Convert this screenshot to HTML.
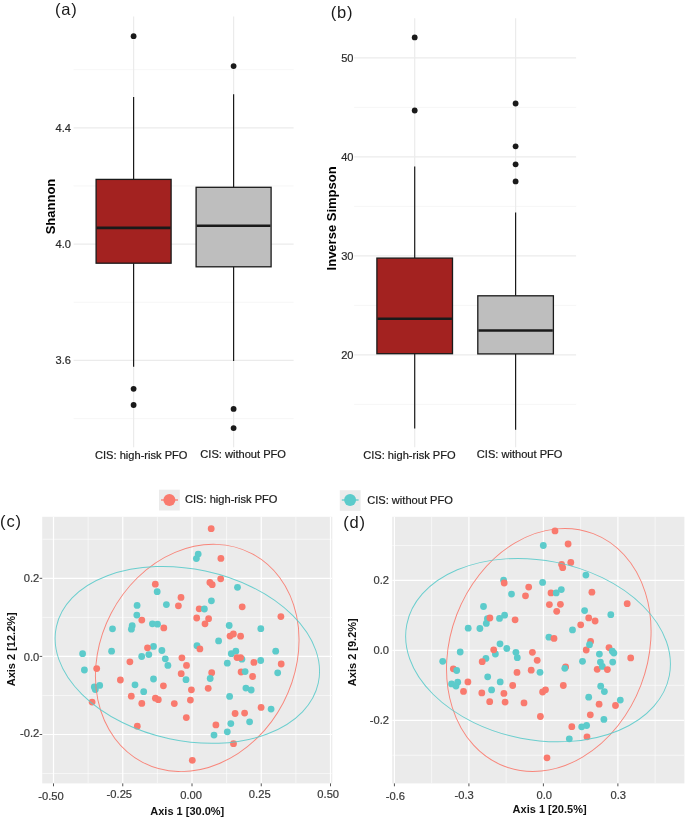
<!DOCTYPE html>
<html><head><meta charset="utf-8"><title>Figure</title>
<style>
html,body{margin:0;padding:0;background:#fff;width:685px;height:827px;overflow:hidden;}
svg{display:block;will-change:transform;}
text{font-family:"Liberation Sans", sans-serif;}
text.t{stroke:currentColor;stroke-width:0.2px;}
</style></head><body>
<svg width="685" height="827" viewBox="0 0 685 827">
<rect width="685" height="827" fill="#fff"/>
<line x1="73.6" y1="69.65" x2="293.6" y2="69.65" stroke="#F2F2F2" stroke-width="0.7" />
<line x1="73.6" y1="185.95" x2="293.6" y2="185.95" stroke="#F2F2F2" stroke-width="0.7" />
<line x1="73.6" y1="302.25" x2="293.6" y2="302.25" stroke="#F2F2F2" stroke-width="0.7" />
<line x1="73.6" y1="418.55" x2="293.6" y2="418.55" stroke="#F2F2F2" stroke-width="0.7" />
<line x1="73.6" y1="127.8" x2="293.6" y2="127.8" stroke="#EBEBEB" stroke-width="1.2" />
<line x1="73.6" y1="244.1" x2="293.6" y2="244.1" stroke="#EBEBEB" stroke-width="1.2" />
<line x1="73.6" y1="360.4" x2="293.6" y2="360.4" stroke="#EBEBEB" stroke-width="1.2" />
<line x1="133.6" y1="16.4" x2="133.6" y2="447.3" stroke="#EBEBEB" stroke-width="1.2" />
<line x1="233.6" y1="16.4" x2="233.6" y2="447.3" stroke="#EBEBEB" stroke-width="1.2" />
<line x1="133.6" y1="97" x2="133.6" y2="179.4" stroke="#1a1a1a" stroke-width="1.2" />
<line x1="133.6" y1="263.2" x2="133.6" y2="366.7" stroke="#1a1a1a" stroke-width="1.2" />
<rect x="96.1" y="179.4" width="75.0" height="83.8" fill="#A32220" stroke="#1a1a1a" stroke-width="1.3"/>
<line x1="96.7" y1="227.9" x2="170.5" y2="227.9" stroke="#1a1a1a" stroke-width="2.6" />
<circle cx="133.6" cy="36.2" r="2.9" fill="#1a1a1a" />
<circle cx="133.6" cy="388.8" r="2.9" fill="#1a1a1a" />
<circle cx="133.6" cy="405" r="2.9" fill="#1a1a1a" />
<line x1="233.6" y1="94.2" x2="233.6" y2="187.3" stroke="#1a1a1a" stroke-width="1.2" />
<line x1="233.6" y1="266.8" x2="233.6" y2="361" stroke="#1a1a1a" stroke-width="1.2" />
<rect x="196.1" y="187.3" width="75.0" height="79.5" fill="#BEBEBE" stroke="#1a1a1a" stroke-width="1.3"/>
<line x1="196.7" y1="225.8" x2="270.5" y2="225.8" stroke="#1a1a1a" stroke-width="2.6" />
<circle cx="233.6" cy="66.1" r="2.9" fill="#1a1a1a" />
<circle cx="233.6" cy="408.9" r="2.9" fill="#1a1a1a" />
<circle cx="233.6" cy="428.1" r="2.9" fill="#1a1a1a" />
<text x="55.0" y="15.1" font-size="16.5" fill="#1a1a1a" text-anchor="start" font-weight="normal" letter-spacing="0.8">(a)</text>
<text x="70.9" y="131.8" font-size="11.1" fill="#2a2a2a" text-anchor="end" font-weight="normal" class="t" style="color:#2a2a2a" >4.4</text>
<text x="70.9" y="248.1" font-size="11.1" fill="#2a2a2a" text-anchor="end" font-weight="normal" class="t" style="color:#2a2a2a" >4.0</text>
<text x="70.9" y="364.4" font-size="11.1" fill="#2a2a2a" text-anchor="end" font-weight="normal" class="t" style="color:#2a2a2a" >3.6</text>
<text x="0" y="0" font-size="13" font-weight="bold" fill="#000" text-anchor="middle" transform="translate(54.8,206.5) rotate(-90)">Shannon</text>
<text x="95" y="459.1" font-size="11.1" fill="#1a1a1a" text-anchor="start" font-weight="normal" class="t" style="color:#1a1a1a" >CIS: high-risk PFO</text>
<text x="200.3" y="458.2" font-size="11.1" fill="#1a1a1a" text-anchor="start" font-weight="normal" class="t" style="color:#1a1a1a" >CIS: without PFO</text>
<line x1="354.2" y1="107.4" x2="576.1" y2="107.4" stroke="#F2F2F2" stroke-width="0.7" />
<line x1="354.2" y1="206.4" x2="576.1" y2="206.4" stroke="#F2F2F2" stroke-width="0.7" />
<line x1="354.2" y1="305.4" x2="576.1" y2="305.4" stroke="#F2F2F2" stroke-width="0.7" />
<line x1="354.2" y1="404.4" x2="576.1" y2="404.4" stroke="#F2F2F2" stroke-width="0.7" />
<line x1="354.2" y1="57.9" x2="576.1" y2="57.9" stroke="#EBEBEB" stroke-width="1.2" />
<line x1="354.2" y1="156.9" x2="576.1" y2="156.9" stroke="#EBEBEB" stroke-width="1.2" />
<line x1="354.2" y1="255.9" x2="576.1" y2="255.9" stroke="#EBEBEB" stroke-width="1.2" />
<line x1="354.2" y1="354.9" x2="576.1" y2="354.9" stroke="#EBEBEB" stroke-width="1.2" />
<line x1="414.7" y1="18.2" x2="414.7" y2="447.2" stroke="#EBEBEB" stroke-width="1.2" />
<line x1="515.6" y1="18.2" x2="515.6" y2="447.2" stroke="#EBEBEB" stroke-width="1.2" />
<line x1="414.7" y1="166.5" x2="414.7" y2="258.1" stroke="#1a1a1a" stroke-width="1.2" />
<line x1="414.7" y1="353.7" x2="414.7" y2="428.5" stroke="#1a1a1a" stroke-width="1.2" />
<rect x="376.9" y="258.1" width="75.6" height="95.6" fill="#A32220" stroke="#1a1a1a" stroke-width="1.3"/>
<line x1="377.5" y1="318.8" x2="451.9" y2="318.8" stroke="#1a1a1a" stroke-width="2.6" />
<circle cx="414.7" cy="37.4" r="2.9" fill="#1a1a1a" />
<circle cx="414.7" cy="110.5" r="2.9" fill="#1a1a1a" />
<line x1="515.6" y1="212.4" x2="515.6" y2="295.8" stroke="#1a1a1a" stroke-width="1.2" />
<line x1="515.6" y1="353.9" x2="515.6" y2="429.7" stroke="#1a1a1a" stroke-width="1.2" />
<rect x="477.8" y="295.8" width="75.6" height="58.1" fill="#BEBEBE" stroke="#1a1a1a" stroke-width="1.3"/>
<line x1="478.4" y1="330.5" x2="552.8" y2="330.5" stroke="#1a1a1a" stroke-width="2.6" />
<circle cx="515.6" cy="103.5" r="2.9" fill="#1a1a1a" />
<circle cx="515.6" cy="146.3" r="2.9" fill="#1a1a1a" />
<circle cx="515.6" cy="164.3" r="2.9" fill="#1a1a1a" />
<circle cx="515.6" cy="181.4" r="2.9" fill="#1a1a1a" />
<text x="330.8" y="17.6" font-size="16.5" fill="#1a1a1a" text-anchor="start" font-weight="normal" letter-spacing="0.8">(b)</text>
<text x="353.5" y="61.9" font-size="11.1" fill="#2a2a2a" text-anchor="end" font-weight="normal" class="t" style="color:#2a2a2a" >50</text>
<text x="353.5" y="160.9" font-size="11.1" fill="#2a2a2a" text-anchor="end" font-weight="normal" class="t" style="color:#2a2a2a" >40</text>
<text x="353.5" y="259.9" font-size="11.1" fill="#2a2a2a" text-anchor="end" font-weight="normal" class="t" style="color:#2a2a2a" >30</text>
<text x="353.5" y="358.9" font-size="11.1" fill="#2a2a2a" text-anchor="end" font-weight="normal" class="t" style="color:#2a2a2a" >20</text>
<text x="0" y="0" font-size="13" font-weight="bold" fill="#000" text-anchor="middle" transform="translate(335.9,218.4) rotate(-90)">Inverse Simpson</text>
<text x="363.2" y="458.7" font-size="11.1" fill="#1a1a1a" text-anchor="start" font-weight="normal" class="t" style="color:#1a1a1a" >CIS: high-risk PFO</text>
<text x="476.8" y="458.4" font-size="11.1" fill="#1a1a1a" text-anchor="start" font-weight="normal" class="t" style="color:#1a1a1a" >CIS: without PFO</text>
<rect x="159.0" y="489.7" width="20.8" height="20.8" fill="#EBEBEB"/>
<line x1="161" y1="500" x2="178" y2="500" stroke="#F97A6E" stroke-width="1.3" />
<circle cx="169.4" cy="500.1" r="6" fill="#F97A6E" />
<text x="185.0" y="503" font-size="11.1" fill="#1a1a1a" text-anchor="start" font-weight="normal" class="t" style="color:#1a1a1a" >CIS: high-risk PFO</text>
<rect x="339.8" y="490.2" width="20.8" height="20.6" fill="#EBEBEB"/>
<line x1="341.8" y1="500" x2="358.6" y2="500" stroke="#5CCBCB" stroke-width="1.3" />
<circle cx="350.1" cy="500.1" r="6" fill="#5CCBCB" />
<text x="367.2" y="504" font-size="11.1" fill="#1a1a1a" text-anchor="start" font-weight="normal" class="t" style="color:#1a1a1a" >CIS: without PFO</text>
<clipPath id="cc"><rect x="42.2" y="516.8" width="290.1" height="266.6"/></clipPath>
<rect x="42.2" y="516.8" width="290.1" height="266.6" fill="#EBEBEB"/>
<g clip-path="url(#cc)">
<line x1="88.12" y1="516.8" x2="88.12" y2="783.4" stroke="#fff" stroke-width="0.6" />
<line x1="157.38" y1="516.8" x2="157.38" y2="783.4" stroke="#fff" stroke-width="0.6" />
<line x1="226.62" y1="516.8" x2="226.62" y2="783.4" stroke="#fff" stroke-width="0.6" />
<line x1="295.88" y1="516.8" x2="295.88" y2="783.4" stroke="#fff" stroke-width="0.6" />
<line x1="42.2" y1="539.25" x2="332.3" y2="539.25" stroke="#fff" stroke-width="0.6" />
<line x1="42.2" y1="617.35" x2="332.3" y2="617.35" stroke="#fff" stroke-width="0.6" />
<line x1="42.2" y1="695.45" x2="332.3" y2="695.45" stroke="#fff" stroke-width="0.6" />
<line x1="42.2" y1="773.55" x2="332.3" y2="773.55" stroke="#fff" stroke-width="0.6" />
<line x1="53.5" y1="516.8" x2="53.5" y2="783.4" stroke="#fff" stroke-width="1.2" />
<line x1="122.75" y1="516.8" x2="122.75" y2="783.4" stroke="#fff" stroke-width="1.2" />
<line x1="192.0" y1="516.8" x2="192.0" y2="783.4" stroke="#fff" stroke-width="1.2" />
<line x1="261.25" y1="516.8" x2="261.25" y2="783.4" stroke="#fff" stroke-width="1.2" />
<line x1="330.5" y1="516.8" x2="330.5" y2="783.4" stroke="#fff" stroke-width="1.2" />
<line x1="42.2" y1="578.3" x2="332.3" y2="578.3" stroke="#fff" stroke-width="1.2" />
<line x1="42.2" y1="656.4" x2="332.3" y2="656.4" stroke="#fff" stroke-width="1.2" />
<line x1="42.2" y1="734.5" x2="332.3" y2="734.5" stroke="#fff" stroke-width="1.2" />
<circle cx="211.2" cy="528.7" r="3.4" fill="#F97A6E" />
<circle cx="220.9" cy="558.4" r="3.4" fill="#F97A6E" />
<circle cx="220.7" cy="578.8" r="3.4" fill="#F97A6E" />
<circle cx="209.9" cy="582.4" r="3.4" fill="#F97A6E" />
<circle cx="212.2" cy="584.7" r="3.4" fill="#F97A6E" />
<circle cx="155.3" cy="584.2" r="3.4" fill="#F97A6E" />
<circle cx="181" cy="597.4" r="3.4" fill="#F97A6E" />
<circle cx="178.4" cy="605.8" r="3.4" fill="#F97A6E" />
<circle cx="199.2" cy="608.8" r="3.4" fill="#F97A6E" />
<circle cx="242.2" cy="606.8" r="3.4" fill="#F97A6E" />
<circle cx="280.9" cy="616.6" r="3.4" fill="#F97A6E" />
<circle cx="141.8" cy="620.1" r="3.4" fill="#F97A6E" />
<circle cx="196.7" cy="618" r="3.4" fill="#F97A6E" />
<circle cx="208.6" cy="618.7" r="3.4" fill="#F97A6E" />
<circle cx="205" cy="623.8" r="3.4" fill="#F97A6E" />
<circle cx="163.8" cy="627.9" r="3.4" fill="#F97A6E" />
<circle cx="230" cy="636.1" r="3.4" fill="#F97A6E" />
<circle cx="233.4" cy="634" r="3.4" fill="#F97A6E" />
<circle cx="240.6" cy="636.2" r="3.4" fill="#F97A6E" />
<circle cx="129.9" cy="661.8" r="3.4" fill="#F97A6E" />
<circle cx="96.7" cy="668.6" r="3.4" fill="#F97A6E" />
<circle cx="181.9" cy="657.8" r="3.4" fill="#F97A6E" />
<circle cx="186.5" cy="665.4" r="3.4" fill="#F97A6E" />
<circle cx="253.9" cy="662.4" r="3.4" fill="#F97A6E" />
<circle cx="281.2" cy="664" r="3.4" fill="#F97A6E" />
<circle cx="181.2" cy="673.7" r="3.4" fill="#F97A6E" />
<circle cx="211.7" cy="672.7" r="3.4" fill="#F97A6E" />
<circle cx="241.1" cy="672" r="3.4" fill="#F97A6E" />
<circle cx="252.6" cy="676.5" r="3.4" fill="#F97A6E" />
<circle cx="120.4" cy="680" r="3.4" fill="#F97A6E" />
<circle cx="163.4" cy="685.8" r="3.4" fill="#F97A6E" />
<circle cx="191.4" cy="689.8" r="3.4" fill="#F97A6E" />
<circle cx="208.2" cy="688.3" r="3.4" fill="#F97A6E" />
<circle cx="131.3" cy="696.2" r="3.4" fill="#F97A6E" />
<circle cx="155.4" cy="698.2" r="3.4" fill="#F97A6E" />
<circle cx="158.3" cy="699.7" r="3.4" fill="#F97A6E" />
<circle cx="190.4" cy="700.1" r="3.4" fill="#F97A6E" />
<circle cx="92.1" cy="702.1" r="3.4" fill="#F97A6E" />
<circle cx="141.8" cy="703.4" r="3.4" fill="#F97A6E" />
<circle cx="174.3" cy="703.6" r="3.4" fill="#F97A6E" />
<circle cx="261.1" cy="707.4" r="3.4" fill="#F97A6E" />
<circle cx="235.1" cy="713.5" r="3.4" fill="#F97A6E" />
<circle cx="244.6" cy="713.1" r="3.4" fill="#F97A6E" />
<circle cx="186.3" cy="717.6" r="3.4" fill="#F97A6E" />
<circle cx="215.9" cy="724.9" r="3.4" fill="#F97A6E" />
<circle cx="137.3" cy="726.2" r="3.4" fill="#F97A6E" />
<circle cx="233.5" cy="743.7" r="3.4" fill="#F97A6E" />
<circle cx="192.3" cy="760.3" r="3.4" fill="#F97A6E" />
<circle cx="198.2" cy="554.1" r="3.4" fill="#5CCBCB" />
<circle cx="196.4" cy="558.6" r="3.4" fill="#5CCBCB" />
<circle cx="157.2" cy="591.7" r="3.4" fill="#5CCBCB" />
<circle cx="237.5" cy="587.3" r="3.4" fill="#5CCBCB" />
<circle cx="211.4" cy="600.8" r="3.4" fill="#5CCBCB" />
<circle cx="137.1" cy="605.4" r="3.4" fill="#5CCBCB" />
<circle cx="166.4" cy="604.6" r="3.4" fill="#5CCBCB" />
<circle cx="204.4" cy="609" r="3.4" fill="#5CCBCB" />
<circle cx="136.8" cy="615.1" r="3.4" fill="#5CCBCB" />
<circle cx="152.4" cy="623.8" r="3.4" fill="#5CCBCB" />
<circle cx="157.5" cy="624.2" r="3.4" fill="#5CCBCB" />
<circle cx="132.2" cy="625.7" r="3.4" fill="#5CCBCB" />
<circle cx="131.4" cy="629.2" r="3.4" fill="#5CCBCB" />
<circle cx="112.5" cy="628.8" r="3.4" fill="#5CCBCB" />
<circle cx="229.2" cy="625.5" r="3.4" fill="#5CCBCB" />
<circle cx="260.8" cy="628.7" r="3.4" fill="#5CCBCB" />
<circle cx="218.6" cy="640.9" r="3.4" fill="#5CCBCB" />
<circle cx="153.5" cy="646.4" r="3.4" fill="#5CCBCB" />
<circle cx="161.9" cy="650.5" r="3.4" fill="#5CCBCB" />
<circle cx="148.8" cy="654.6" r="3.4" fill="#5CCBCB" />
<circle cx="141.7" cy="656.5" r="3.4" fill="#5CCBCB" />
<circle cx="111.6" cy="651.2" r="3.4" fill="#5CCBCB" />
<circle cx="82.6" cy="653.7" r="3.4" fill="#5CCBCB" />
<circle cx="197" cy="645.7" r="3.4" fill="#5CCBCB" />
<circle cx="231.3" cy="653.7" r="3.4" fill="#5CCBCB" />
<circle cx="235.8" cy="651.2" r="3.4" fill="#5CCBCB" />
<circle cx="275.7" cy="651.2" r="3.4" fill="#5CCBCB" />
<circle cx="165.3" cy="658.8" r="3.4" fill="#5CCBCB" />
<circle cx="167.9" cy="665.4" r="3.4" fill="#5CCBCB" />
<circle cx="227.3" cy="663.2" r="3.4" fill="#5CCBCB" />
<circle cx="260.7" cy="660.5" r="3.4" fill="#5CCBCB" />
<circle cx="241.9" cy="659.2" r="3.4" fill="#5CCBCB" />
<circle cx="84.4" cy="670" r="3.4" fill="#5CCBCB" />
<circle cx="186" cy="679.7" r="3.4" fill="#5CCBCB" />
<circle cx="210.2" cy="678.5" r="3.4" fill="#5CCBCB" />
<circle cx="153.5" cy="679" r="3.4" fill="#5CCBCB" />
<circle cx="245.1" cy="671.6" r="3.4" fill="#5CCBCB" />
<circle cx="277.7" cy="672.8" r="3.4" fill="#5CCBCB" />
<circle cx="135" cy="684.8" r="3.4" fill="#5CCBCB" />
<circle cx="99.7" cy="685.4" r="3.4" fill="#5CCBCB" />
<circle cx="94.3" cy="687" r="3.4" fill="#5CCBCB" />
<circle cx="95.3" cy="689.5" r="3.4" fill="#5CCBCB" />
<circle cx="143.7" cy="691.7" r="3.4" fill="#5CCBCB" />
<circle cx="229.6" cy="696.4" r="3.4" fill="#5CCBCB" />
<circle cx="245.9" cy="688.1" r="3.4" fill="#5CCBCB" />
<circle cx="251.2" cy="690" r="3.4" fill="#5CCBCB" />
<circle cx="271.1" cy="709.1" r="3.4" fill="#5CCBCB" />
<circle cx="249.6" cy="721.8" r="3.4" fill="#5CCBCB" />
<circle cx="230.8" cy="723.6" r="3.4" fill="#5CCBCB" />
<circle cx="227.3" cy="731.8" r="3.4" fill="#5CCBCB" />
<circle cx="214" cy="735.1" r="3.4" fill="#5CCBCB" />
<circle cx="147.5" cy="647.8" r="3.4" fill="#F97A6E" />
<circle cx="199.9" cy="648.9" r="3.4" fill="#F97A6E" />
<circle cx="237" cy="657.6" r="3.4" fill="#F97A6E" />
<circle cx="240.6" cy="657.6" r="3.4" fill="#F97A6E" />
<ellipse cx="197.23" cy="657.97" rx="117.78" ry="96.98" transform="rotate(-62.38 197.23 657.97)" fill="none" stroke="#F97A6E" stroke-width="0.95" stroke-opacity="0.9"/>
<ellipse cx="187.33" cy="654.88" rx="85.79" ry="133.97" transform="rotate(102.10 187.33 654.88)" fill="none" stroke="#5CCBCB" stroke-width="0.95" stroke-opacity="0.9"/>
</g>
<line x1="53.5" y1="783.4" x2="53.5" y2="786.3" stroke="#555" stroke-width="1.0" />
<line x1="122.75" y1="783.4" x2="122.75" y2="786.3" stroke="#555" stroke-width="1.0" />
<line x1="192.0" y1="783.4" x2="192.0" y2="786.3" stroke="#555" stroke-width="1.0" />
<line x1="261.25" y1="783.4" x2="261.25" y2="786.3" stroke="#555" stroke-width="1.0" />
<line x1="330.5" y1="783.4" x2="330.5" y2="786.3" stroke="#555" stroke-width="1.0" />
<line x1="39.6" y1="578.3" x2="42.2" y2="578.3" stroke="#555" stroke-width="1.0" />
<line x1="39.6" y1="656.4" x2="42.2" y2="656.4" stroke="#555" stroke-width="1.0" />
<line x1="39.6" y1="734.5" x2="42.2" y2="734.5" stroke="#555" stroke-width="1.0" />
<text x="39.3" y="581.7" font-size="11.2" fill="#383838" text-anchor="end" font-weight="normal" class="t" style="color:#383838" >0.2</text>
<text x="39.3" y="660.8" font-size="11.2" fill="#383838" text-anchor="end" font-weight="normal" class="t" style="color:#383838" >0.0</text>
<text x="39.3" y="737.3" font-size="11.2" fill="#383838" text-anchor="end" font-weight="normal" class="t" style="color:#383838" >-0.2</text>
<text x="51.0" y="799.8" font-size="11.2" fill="#383838" text-anchor="middle" font-weight="normal" class="t" style="color:#383838" >-0.50</text>
<text x="119.35" y="798.4" font-size="11.2" fill="#383838" text-anchor="middle" font-weight="normal" class="t" style="color:#383838" >-0.25</text>
<text x="191.1" y="798.6" font-size="11.2" fill="#383838" text-anchor="middle" font-weight="normal" class="t" style="color:#383838" >0.00</text>
<text x="259.75" y="798.0" font-size="11.2" fill="#383838" text-anchor="middle" font-weight="normal" class="t" style="color:#383838" >0.25</text>
<text x="328.2" y="798.4" font-size="11.2" fill="#383838" text-anchor="middle" font-weight="normal" class="t" style="color:#383838" >0.50</text>
<text x="0.1" y="527.0" font-size="16.5" fill="#1a1a1a" text-anchor="start" font-weight="normal" letter-spacing="0.8">(c)</text>
<text x="0" y="0" font-size="11" font-weight="bold" fill="#111" text-anchor="middle" transform="translate(14.6,649.3) rotate(-90)">Axis 2 [12.2%]</text>
<text x="187.3" y="814.6" font-size="11" fill="#111" text-anchor="middle" font-weight="bold" >Axis 1 [30.0%]</text>
<clipPath id="dd"><rect x="392.2" y="516.8" width="292.2" height="266.6"/></clipPath>
<rect x="392.2" y="516.8" width="292.2" height="266.6" fill="#EBEBEB"/>
<g clip-path="url(#dd)">
<line x1="431.66" y1="516.8" x2="431.66" y2="783.4" stroke="#fff" stroke-width="0.6" />
<line x1="506.15" y1="516.8" x2="506.15" y2="783.4" stroke="#fff" stroke-width="0.6" />
<line x1="580.64" y1="516.8" x2="580.64" y2="783.4" stroke="#fff" stroke-width="0.6" />
<line x1="655.13" y1="516.8" x2="655.13" y2="783.4" stroke="#fff" stroke-width="0.6" />
<line x1="392.2" y1="545.44" x2="684.4" y2="545.44" stroke="#fff" stroke-width="0.6" />
<line x1="392.2" y1="615.38" x2="684.4" y2="615.38" stroke="#fff" stroke-width="0.6" />
<line x1="392.2" y1="685.32" x2="684.4" y2="685.32" stroke="#fff" stroke-width="0.6" />
<line x1="392.2" y1="755.26" x2="684.4" y2="755.26" stroke="#fff" stroke-width="0.6" />
<line x1="394.42" y1="516.8" x2="394.42" y2="783.4" stroke="#fff" stroke-width="1.2" />
<line x1="468.91" y1="516.8" x2="468.91" y2="783.4" stroke="#fff" stroke-width="1.2" />
<line x1="543.4" y1="516.8" x2="543.4" y2="783.4" stroke="#fff" stroke-width="1.2" />
<line x1="617.89" y1="516.8" x2="617.89" y2="783.4" stroke="#fff" stroke-width="1.2" />
<line x1="392.2" y1="580.41" x2="684.4" y2="580.41" stroke="#fff" stroke-width="1.2" />
<line x1="392.2" y1="650.35" x2="684.4" y2="650.35" stroke="#fff" stroke-width="1.2" />
<line x1="392.2" y1="720.29" x2="684.4" y2="720.29" stroke="#fff" stroke-width="1.2" />
<circle cx="555" cy="530.9" r="3.4" fill="#F97A6E" />
<circle cx="568.1" cy="544" r="3.4" fill="#F97A6E" />
<circle cx="561.6" cy="564.4" r="3.4" fill="#F97A6E" />
<circle cx="562.7" cy="567.7" r="3.4" fill="#F97A6E" />
<circle cx="570.8" cy="562.5" r="3.4" fill="#F97A6E" />
<circle cx="528.7" cy="587.1" r="3.4" fill="#F97A6E" />
<circle cx="525.5" cy="595.8" r="3.4" fill="#F97A6E" />
<circle cx="551" cy="592.9" r="3.4" fill="#F97A6E" />
<circle cx="549.4" cy="604.6" r="3.4" fill="#F97A6E" />
<circle cx="560.4" cy="604.3" r="3.4" fill="#F97A6E" />
<circle cx="556.7" cy="611.3" r="3.4" fill="#F97A6E" />
<circle cx="591.9" cy="592.2" r="3.4" fill="#F97A6E" />
<circle cx="627.2" cy="603.7" r="3.4" fill="#F97A6E" />
<circle cx="515.1" cy="619.8" r="3.4" fill="#F97A6E" />
<circle cx="580.7" cy="624.8" r="3.4" fill="#F97A6E" />
<circle cx="588.7" cy="617.9" r="3.4" fill="#F97A6E" />
<circle cx="595.1" cy="621" r="3.4" fill="#F97A6E" />
<circle cx="590.6" cy="641.5" r="3.4" fill="#F97A6E" />
<circle cx="532.4" cy="652.3" r="3.4" fill="#F97A6E" />
<circle cx="537.2" cy="660.3" r="3.4" fill="#F97A6E" />
<circle cx="586.2" cy="650" r="3.4" fill="#F97A6E" />
<circle cx="609" cy="647.6" r="3.4" fill="#F97A6E" />
<circle cx="630.7" cy="657.9" r="3.4" fill="#F97A6E" />
<circle cx="453.3" cy="668.8" r="3.4" fill="#F97A6E" />
<circle cx="565.6" cy="666.9" r="3.4" fill="#F97A6E" />
<circle cx="517" cy="672.4" r="3.4" fill="#F97A6E" />
<circle cx="531.2" cy="670.2" r="3.4" fill="#F97A6E" />
<circle cx="597.2" cy="669.3" r="3.4" fill="#F97A6E" />
<circle cx="467.9" cy="681.9" r="3.4" fill="#F97A6E" />
<circle cx="512.7" cy="685.5" r="3.4" fill="#F97A6E" />
<circle cx="563.3" cy="685.5" r="3.4" fill="#F97A6E" />
<circle cx="463.5" cy="691.4" r="3.4" fill="#F97A6E" />
<circle cx="481.8" cy="692.9" r="3.4" fill="#F97A6E" />
<circle cx="503.9" cy="693.4" r="3.4" fill="#F97A6E" />
<circle cx="542.6" cy="692" r="3.4" fill="#F97A6E" />
<circle cx="545.5" cy="689.8" r="3.4" fill="#F97A6E" />
<circle cx="489.7" cy="701.7" r="3.4" fill="#F97A6E" />
<circle cx="505.1" cy="702.1" r="3.4" fill="#F97A6E" />
<circle cx="524" cy="702.9" r="3.4" fill="#F97A6E" />
<circle cx="599.1" cy="704.2" r="3.4" fill="#F97A6E" />
<circle cx="615.5" cy="705.5" r="3.4" fill="#F97A6E" />
<circle cx="540.4" cy="716.5" r="3.4" fill="#F97A6E" />
<circle cx="590.3" cy="714.8" r="3.4" fill="#F97A6E" />
<circle cx="571.8" cy="726.7" r="3.4" fill="#F97A6E" />
<circle cx="587" cy="736.8" r="3.4" fill="#F97A6E" />
<circle cx="547" cy="757.8" r="3.4" fill="#F97A6E" />
<circle cx="543.3" cy="545.5" r="3.4" fill="#5CCBCB" />
<circle cx="503.6" cy="580.2" r="3.4" fill="#5CCBCB" />
<circle cx="542.6" cy="582.4" r="3.4" fill="#5CCBCB" />
<circle cx="511.5" cy="594.1" r="3.4" fill="#5CCBCB" />
<circle cx="561.3" cy="589.6" r="3.4" fill="#5CCBCB" />
<circle cx="556.2" cy="592.9" r="3.4" fill="#5CCBCB" />
<circle cx="483.5" cy="606.5" r="3.4" fill="#5CCBCB" />
<circle cx="585.9" cy="575.1" r="3.4" fill="#5CCBCB" />
<circle cx="584.6" cy="610.6" r="3.4" fill="#5CCBCB" />
<circle cx="610.8" cy="614.7" r="3.4" fill="#5CCBCB" />
<circle cx="504.6" cy="615.2" r="3.4" fill="#5CCBCB" />
<circle cx="499.5" cy="618.4" r="3.4" fill="#5CCBCB" />
<circle cx="487.4" cy="618.7" r="3.4" fill="#5CCBCB" />
<circle cx="486.3" cy="623.4" r="3.4" fill="#5CCBCB" />
<circle cx="468.2" cy="628.2" r="3.4" fill="#5CCBCB" />
<circle cx="479.9" cy="628.5" r="3.4" fill="#5CCBCB" />
<circle cx="572.5" cy="629.9" r="3.4" fill="#5CCBCB" />
<circle cx="548.9" cy="637.2" r="3.4" fill="#5CCBCB" />
<circle cx="500" cy="643.8" r="3.4" fill="#5CCBCB" />
<circle cx="506.8" cy="648.5" r="3.4" fill="#5CCBCB" />
<circle cx="495.4" cy="654" r="3.4" fill="#5CCBCB" />
<circle cx="515.9" cy="652.3" r="3.4" fill="#5CCBCB" />
<circle cx="517.3" cy="657.7" r="3.4" fill="#5CCBCB" />
<circle cx="460.2" cy="652" r="3.4" fill="#5CCBCB" />
<circle cx="442.7" cy="661.3" r="3.4" fill="#5CCBCB" />
<circle cx="485.9" cy="658.4" r="3.4" fill="#5CCBCB" />
<circle cx="456.7" cy="670.5" r="3.4" fill="#5CCBCB" />
<circle cx="487.7" cy="676.8" r="3.4" fill="#5CCBCB" />
<circle cx="451.6" cy="683.9" r="3.4" fill="#5CCBCB" />
<circle cx="457.7" cy="682.2" r="3.4" fill="#5CCBCB" />
<circle cx="456" cy="686.1" r="3.4" fill="#5CCBCB" />
<circle cx="564.8" cy="668.3" r="3.4" fill="#5CCBCB" />
<circle cx="540" cy="672.3" r="3.4" fill="#5CCBCB" />
<circle cx="500.2" cy="681.9" r="3.4" fill="#5CCBCB" />
<circle cx="491.6" cy="689.9" r="3.4" fill="#5CCBCB" />
<circle cx="589.5" cy="644.7" r="3.4" fill="#5CCBCB" />
<circle cx="612.3" cy="651.2" r="3.4" fill="#5CCBCB" />
<circle cx="613.9" cy="653.1" r="3.4" fill="#5CCBCB" />
<circle cx="599.4" cy="654.1" r="3.4" fill="#5CCBCB" />
<circle cx="582.5" cy="661.3" r="3.4" fill="#5CCBCB" />
<circle cx="600.4" cy="662.1" r="3.4" fill="#5CCBCB" />
<circle cx="602.3" cy="666.4" r="3.4" fill="#5CCBCB" />
<circle cx="612.7" cy="662.1" r="3.4" fill="#5CCBCB" />
<circle cx="600.7" cy="686.2" r="3.4" fill="#5CCBCB" />
<circle cx="604.4" cy="691.6" r="3.4" fill="#5CCBCB" />
<circle cx="588.7" cy="697.2" r="3.4" fill="#5CCBCB" />
<circle cx="620.3" cy="700.1" r="3.4" fill="#5CCBCB" />
<circle cx="603.9" cy="719.4" r="3.4" fill="#5CCBCB" />
<circle cx="581.7" cy="726.8" r="3.4" fill="#5CCBCB" />
<circle cx="586.6" cy="725.5" r="3.4" fill="#5CCBCB" />
<circle cx="569.3" cy="738.8" r="3.4" fill="#5CCBCB" />
<circle cx="504.2" cy="583" r="3.4" fill="#F97A6E" />
<circle cx="489.9" cy="618" r="3.4" fill="#F97A6E" />
<circle cx="554" cy="638.4" r="3.4" fill="#F97A6E" />
<circle cx="493.7" cy="649.8" r="3.4" fill="#F97A6E" />
<circle cx="482.2" cy="661.7" r="3.4" fill="#F97A6E" />
<circle cx="607.4" cy="669.6" r="3.4" fill="#F97A6E" />
<ellipse cx="548.80" cy="649.97" rx="124.52" ry="98.61" transform="rotate(-69.09 548.80 649.97)" fill="none" stroke="#F97A6E" stroke-width="0.95" stroke-opacity="0.9"/>
<ellipse cx="538.03" cy="650.13" rx="133.74" ry="89.69" transform="rotate(-168.97 538.03 650.13)" fill="none" stroke="#5CCBCB" stroke-width="0.95" stroke-opacity="0.9"/>
</g>
<line x1="394.42" y1="783.4" x2="394.42" y2="786.3" stroke="#555" stroke-width="1.0" />
<line x1="468.91" y1="783.4" x2="468.91" y2="786.3" stroke="#555" stroke-width="1.0" />
<line x1="543.4" y1="783.4" x2="543.4" y2="786.3" stroke="#555" stroke-width="1.0" />
<line x1="617.89" y1="783.4" x2="617.89" y2="786.3" stroke="#555" stroke-width="1.0" />
<text x="343.3" y="527.8" font-size="16.5" fill="#1a1a1a" text-anchor="start" font-weight="normal" letter-spacing="0.8">(d)</text>
<text x="389" y="584.41" font-size="11.2" fill="#383838" text-anchor="end" font-weight="normal" class="t" style="color:#383838" >0.2</text>
<text x="389" y="654.35" font-size="11.2" fill="#383838" text-anchor="end" font-weight="normal" class="t" style="color:#383838" >0.0</text>
<text x="389" y="724.29" font-size="11.2" fill="#383838" text-anchor="end" font-weight="normal" class="t" style="color:#383838" >-0.2</text>
<text x="395.42" y="800.0" font-size="11.2" fill="#383838" text-anchor="middle" font-weight="normal" class="t" style="color:#383838" >-0.6</text>
<text x="464.11" y="798.8" font-size="11.2" fill="#383838" text-anchor="middle" font-weight="normal" class="t" style="color:#383838" >-0.3</text>
<text x="544.2" y="798.6" font-size="11.2" fill="#383838" text-anchor="middle" font-weight="normal" class="t" style="color:#383838" >0.0</text>
<text x="618.19" y="798.6" font-size="11.2" fill="#383838" text-anchor="middle" font-weight="normal" class="t" style="color:#383838" >0.3</text>
<text x="0" y="0" font-size="11" font-weight="bold" fill="#111" text-anchor="middle" transform="translate(356.3,652.2) rotate(-90)">Axis 2 [9.2%]</text>
<text x="549.6" y="812.9" font-size="11" fill="#111" text-anchor="middle" font-weight="bold" >Axis 1 [20.5%]</text>
</svg>
</body></html>
